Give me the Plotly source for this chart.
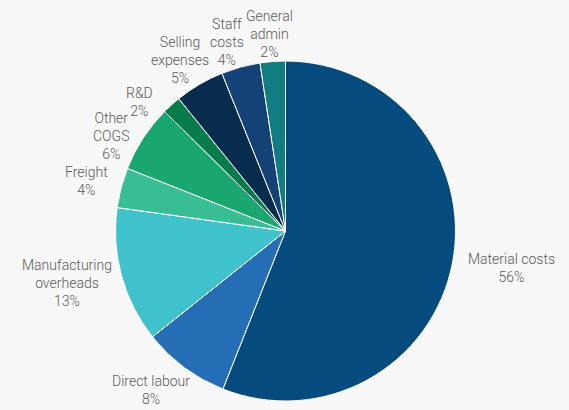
import math
import plotly.graph_objects as go

labels = ["Material costs", "Direct labour", "Manufacturing<br>overheads", "Freight",
          "Other<br>COGS", "R&D", "Selling<br>expenses", "Staff<br>costs", "General<br>admin"]
values = [56.0, 8.3, 12.9, 3.8, 6.4, 1.8, 4.7, 3.7, 2.4]
colors = ["#054b7d", "#256eb5", "#40c2cd", "#39bd94", "#1aa76f", "#077b49",
          "#072c4e", "#144276", "#127d80"]

W, H = 569, 410
cx, cy, r = 285.5, 231, 170
FS = 14
GAP = 12
CHAR_W = 6.8
LINE_H = 17.5

fig = go.Figure(go.Pie(
    labels=labels, values=values, sort=False, direction="clockwise", rotation=0,
    marker=dict(colors=colors, line=dict(color="white", width=1)),
    textinfo="none", hoverinfo="label+percent",
    domain=dict(x=[(cx - r) / W, (cx + r) / W], y=[(H - cy - r) / H, (H - cy + r) / H]),
))

# outside labels: start at each slice's mid-angle, then push overlapping ones
# counter-clockwise (down the left side) until they are clear of their neighbour
total = sum(values)
texts, sizes, angles = [], [], []
cum = 0.0
for lab, v in zip(labels, values):
    angles.append((cum + v / 2) / total * 2 * math.pi)
    cum += v
    lines = lab.split("<br>") + [f"{round(v / total * 100)}%"]
    texts.append("<br>".join(lines))
    sizes.append((max(len(s) for s in lines) * CHAR_W, len(lines) * LINE_H))


def centre(a, size):
    dx, dy = math.sin(a), -math.cos(a)
    w, _ = size
    return cx + dx * (r + GAP + w / 2), cy + dy * (r + GAP + 16)


def overlap(i, j):
    (xi, yi), (xj, yj) = centre(angles[i], sizes[i]), centre(angles[j], sizes[j])
    return (abs(xi - xj) < (sizes[i][0] + sizes[j][0]) / 2 + 2 and
            abs(yi - yj) < (sizes[i][1] + sizes[j][1]) / 2 + 1)


n = len(labels)
for i in range(n - 2, 0, -1):
    for _ in range(300):
        if not overlap(i, i + 1):
            break
        angles[i] -= 0.002

annotations = []
for a, t, s in zip(angles, texts, sizes):
    px, py = centre(a, s)
    annotations.append(dict(
        x=px / W, y=1 - py / H, xref="paper", yref="paper",
        text=t, showarrow=False, xanchor="center", yanchor="middle",
        align="center", font=dict(family="Roboto", size=FS, color="#595959", weight=300),
    ))

fig.update_layout(
    width=W, height=H, margin=dict(l=0, r=0, t=0, b=0),
    paper_bgcolor="#f8f8f8", plot_bgcolor="#f8f8f8", showlegend=False,
    font=dict(family="Roboto"), annotations=annotations,
)
fig.write_html("out.html", config={"displayModeBar": False},
               post_script="document.body.style.margin='0';document.body.style.overflow='hidden';")
